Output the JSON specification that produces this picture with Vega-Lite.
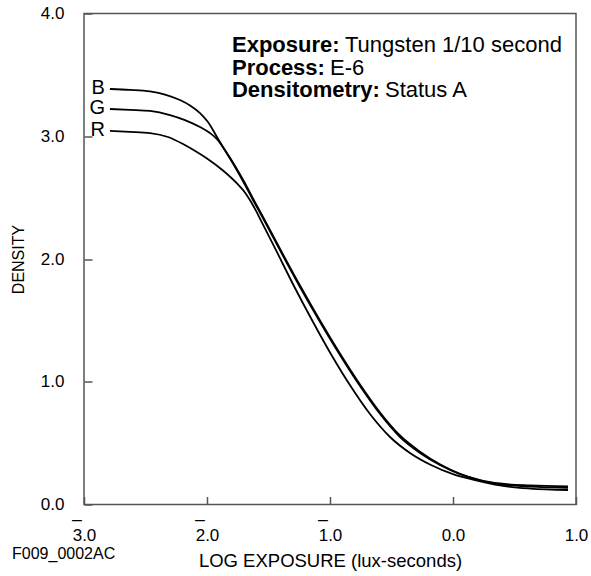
{
  "$schema": "https://vega.github.io/schema/vega-lite/v6.json",
  "width": 492,
  "height": 491,
  "autosize": {"type": "none"},
  "padding": {"left": 84, "top": 13.5, "right": 15, "bottom": 71.5},
  "background": "white",
  "config": {
    "font": "Liberation Sans",
    "view": {"stroke": "#555555", "strokeWidth": 1.5},
    "axis": {
      "domain": false,
      "grid": false,
      "ticks": true,
      "labelFont": "Liberation Sans",
      "titleFont": "Liberation Sans",
      "labelColor": "black",
      "titleColor": "black",
      "labelFontSize": 17,
      "titleFontSize": 18,
      "titleFontWeight": "normal",
      "tickColor": "#555555",
      "tickWidth": 1.5,
      "tickSize": -8
    },
    "text": {"font": "Liberation Sans", "color": "black"}
  },
  "datasets": {
    "curves": [
      {"ch": "B", "logE": -2.789, "D": 3.385},
      {"ch": "B", "logE": -2.626, "D": 3.378},
      {"ch": "B", "logE": -2.463, "D": 3.365},
      {"ch": "B", "logE": -2.341, "D": 3.34},
      {"ch": "B", "logE": -2.22, "D": 3.295},
      {"ch": "B", "logE": -2.138, "D": 3.251},
      {"ch": "B", "logE": -2.057, "D": 3.189},
      {"ch": "B", "logE": -1.992, "D": 3.116},
      {"ch": "B", "logE": -1.919, "D": 2.994},
      {"ch": "B", "logE": -1.846, "D": 2.872},
      {"ch": "B", "logE": -1.772, "D": 2.749},
      {"ch": "B", "logE": -1.699, "D": 2.619},
      {"ch": "B", "logE": -1.626, "D": 2.481},
      {"ch": "B", "logE": -1.528, "D": 2.301},
      {"ch": "B", "logE": -1.407, "D": 2.072},
      {"ch": "B", "logE": -1.244, "D": 1.772},
      {"ch": "B", "logE": -1.081, "D": 1.487},
      {"ch": "B", "logE": -0.919, "D": 1.218},
      {"ch": "B", "logE": -0.756, "D": 0.965},
      {"ch": "B", "logE": -0.593, "D": 0.737},
      {"ch": "B", "logE": -0.431, "D": 0.55},
      {"ch": "B", "logE": -0.268, "D": 0.42},
      {"ch": "B", "logE": -0.106, "D": 0.322},
      {"ch": "B", "logE": 0.057, "D": 0.248},
      {"ch": "B", "logE": 0.22, "D": 0.199},
      {"ch": "B", "logE": 0.382, "D": 0.171},
      {"ch": "B", "logE": 0.626, "D": 0.155},
      {"ch": "B", "logE": 0.935, "D": 0.147},
      {"ch": "G", "logE": -2.789, "D": 3.222},
      {"ch": "G", "logE": -2.626, "D": 3.215},
      {"ch": "G", "logE": -2.463, "D": 3.206},
      {"ch": "G", "logE": -2.301, "D": 3.173},
      {"ch": "G", "logE": -2.179, "D": 3.132},
      {"ch": "G", "logE": -2.057, "D": 3.075},
      {"ch": "G", "logE": -1.976, "D": 3.026},
      {"ch": "G", "logE": -1.919, "D": 2.977},
      {"ch": "G", "logE": -1.846, "D": 2.875},
      {"ch": "G", "logE": -1.772, "D": 2.758},
      {"ch": "G", "logE": -1.699, "D": 2.631},
      {"ch": "G", "logE": -1.626, "D": 2.493},
      {"ch": "G", "logE": -1.528, "D": 2.313},
      {"ch": "G", "logE": -1.407, "D": 2.084},
      {"ch": "G", "logE": -1.244, "D": 1.784},
      {"ch": "G", "logE": -1.081, "D": 1.499},
      {"ch": "G", "logE": -0.919, "D": 1.23},
      {"ch": "G", "logE": -0.756, "D": 0.977},
      {"ch": "G", "logE": -0.593, "D": 0.749},
      {"ch": "G", "logE": -0.431, "D": 0.562},
      {"ch": "G", "logE": -0.268, "D": 0.43},
      {"ch": "G", "logE": -0.106, "D": 0.327},
      {"ch": "G", "logE": 0.057, "D": 0.249},
      {"ch": "G", "logE": 0.22, "D": 0.196},
      {"ch": "G", "logE": 0.382, "D": 0.165},
      {"ch": "G", "logE": 0.626, "D": 0.146},
      {"ch": "G", "logE": 0.935, "D": 0.136},
      {"ch": "R", "logE": -2.789, "D": 3.043},
      {"ch": "R", "logE": -2.626, "D": 3.036},
      {"ch": "R", "logE": -2.463, "D": 3.026},
      {"ch": "R", "logE": -2.317, "D": 2.994},
      {"ch": "R", "logE": -2.195, "D": 2.937},
      {"ch": "R", "logE": -2.089, "D": 2.876},
      {"ch": "R", "logE": -2.0, "D": 2.819},
      {"ch": "R", "logE": -1.87, "D": 2.721},
      {"ch": "R", "logE": -1.732, "D": 2.59},
      {"ch": "R", "logE": -1.69, "D": 2.54},
      {"ch": "R", "logE": -1.65, "D": 2.478},
      {"ch": "R", "logE": -1.6, "D": 2.39},
      {"ch": "R", "logE": -1.557, "D": 2.305},
      {"ch": "R", "logE": -1.439, "D": 2.072},
      {"ch": "R", "logE": -1.289, "D": 1.772},
      {"ch": "R", "logE": -1.138, "D": 1.487},
      {"ch": "R", "logE": -0.988, "D": 1.218},
      {"ch": "R", "logE": -0.833, "D": 0.965},
      {"ch": "R", "logE": -0.675, "D": 0.737},
      {"ch": "R", "logE": -0.512, "D": 0.55},
      {"ch": "R", "logE": -0.35, "D": 0.42},
      {"ch": "R", "logE": -0.179, "D": 0.322},
      {"ch": "R", "logE": 0.0, "D": 0.248},
      {"ch": "R", "logE": 0.179, "D": 0.199},
      {"ch": "R", "logE": 0.382, "D": 0.155},
      {"ch": "R", "logE": 0.626, "D": 0.13},
      {"ch": "R", "logE": 0.935, "D": 0.118}
    ]
  },
  "layer": [
    {
      "data": {"name": "curves"},
      "mark": {"type": "line", "interpolate": "monotone", "color": "black", "strokeWidth": 1.8},
      "encoding": {
        "x": {
          "field": "logE",
          "type": "quantitative",
          "scale": {"domain": [-3, 1], "nice": false, "zero": false},
          "axis": {
            "title": "LOG EXPOSURE (lux-seconds)",
            "titleFontSize": 18.5,
            "values": [-3, -2, -1, 0, 1],
            "labelExpr": "format(abs(datum.value), '.1f')",
            "labelFlush": false,
            "labelPadding": 31,
            "titlePadding": 8
          }
        },
        "y": {
          "field": "D",
          "type": "quantitative",
          "scale": {"domain": [0, 4], "nice": false, "zero": false},
          "axis": {
            "title": "DENSITY",
            "titleFontSize": 16,
            "values": [0, 1, 2, 3, 4],
            "format": ".1f",
            "labelPadding": 28,
            "titlePadding": 14
          }
        },
        "detail": {"field": "ch"}
      }
    },
    {
      "data": {"values": [{"v": -3}, {"v": -2}, {"v": -1}]},
      "mark": {"type": "text", "text": "_", "align": "center", "baseline": "alphabetic", "fontSize": 17, "dx": -7, "dy": 13, "clip": false},
      "encoding": {
        "x": {"field": "v", "type": "quantitative"},
        "y": {"datum": 0, "type": "quantitative"}
      }
    },
    {
      "data": {"name": "curves"},
      "transform": [{"filter": "datum.logE < -2.78"}],
      "mark": {"type": "text", "align": "right", "baseline": "middle", "dx": -5, "dy": -1, "fontSize": 20},
      "encoding": {
        "x": {"field": "logE", "type": "quantitative"},
        "y": {"field": "D", "type": "quantitative"},
        "text": {"field": "ch"}
      }
    },
    {
      "data": {"values": [{"k": "Exposure:", "v": "Tungsten 1/10 second"}]},
      "encoding": {
        "x": {"datum": -1.797, "type": "quantitative"},
        "y": {"datum": 3.69, "type": "quantitative"}
      },
      "layer": [
        {"mark": {"type": "text", "align": "left", "baseline": "alphabetic", "fontSize": 22, "fontWeight": "bold"}, "encoding": {"text": {"field": "k"}}},
        {"mark": {"type": "text", "align": "left", "baseline": "alphabetic", "fontSize": 22, "dx": 113}, "encoding": {"text": {"field": "v"}}}
      ]
    },
    {
      "data": {"values": [{"k": "Process:", "v": "E-6"}]},
      "encoding": {
        "x": {"datum": -1.797, "type": "quantitative"},
        "y": {"datum": 3.503, "type": "quantitative"}
      },
      "layer": [
        {"mark": {"type": "text", "align": "left", "baseline": "alphabetic", "fontSize": 22, "fontWeight": "bold"}, "encoding": {"text": {"field": "k"}}},
        {"mark": {"type": "text", "align": "left", "baseline": "alphabetic", "fontSize": 22, "dx": 98}, "encoding": {"text": {"field": "v"}}}
      ]
    },
    {
      "data": {"values": [{"k": "Densitometry:", "v": "Status A"}]},
      "encoding": {
        "x": {"datum": -1.797, "type": "quantitative"},
        "y": {"datum": 3.316, "type": "quantitative"}
      },
      "layer": [
        {"mark": {"type": "text", "align": "left", "baseline": "alphabetic", "fontSize": 22, "fontWeight": "bold"}, "encoding": {"text": {"field": "k"}}},
        {"mark": {"type": "text", "align": "left", "baseline": "alphabetic", "fontSize": 22, "dx": 153}, "encoding": {"text": {"field": "v"}}}
      ]
    },
    {
      "data": {"values": [{"id": "F009_0002AC"}]},
      "mark": {"type": "text", "align": "left", "baseline": "alphabetic", "fontSize": 16, "clip": false},
      "encoding": {
        "x": {"datum": -3.585, "type": "quantitative"},
        "y": {"datum": -0.448, "type": "quantitative"},
        "text": {"field": "id"}
      }
    }
  ]
}
